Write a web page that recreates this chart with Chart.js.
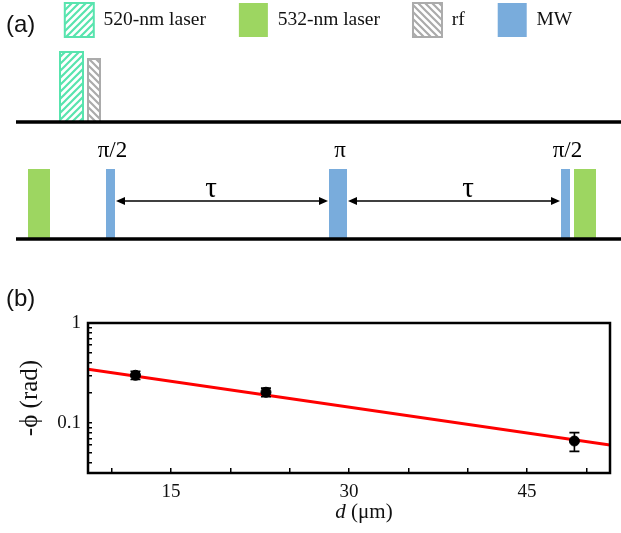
<!DOCTYPE html>
<html>
<head>
<meta charset="utf-8">
<script src="https://cdn.jsdelivr.net/npm/chart.js@4/dist/chart.umd.min.js"></script>
<style>
  body { margin: 0; background: #fff; }
  #wrap { position: relative; width: 621px; height: 533px; overflow: hidden; }
  .tag { position: absolute; font: 24px "Liberation Sans", Arial, sans-serif; color: #111; }
  #pulseBox { position: absolute; left: 0; top: -30px; width: 621px; height: 280px; }
  #phaseBox { position: absolute; left: 0; top: 250px; width: 621px; height: 283px; }
</style>
</head>
<body>
<div id="wrap">
  <div id="pulseBox"><canvas id="pulseChart"></canvas></div>
  <div id="phaseBox"><canvas id="phaseChart"></canvas></div>
  <div class="tag" style="left:6px;top:10px">(a)</div>
  <div class="tag" style="left:6px;top:284px">(b)</div>
</div>
<script>
// ---- (a) pulse sequence, time in a.u. ----
const channelNames = ['520-nm laser', '532-nm laser', 'rf', 'MW'];
const laser520 = [[44, 67]];
const laser532 = [[12, 34], [558, 580]];
const rfPulse = [[72, 84]];
const mwPulse = [[90, 99], [313, 331], [545, 554]];
const mwLabels = ['π/2', 'π', 'π/2'];
const laser520Amp = 1.0;
const laser532Amp = 1.0;
const rfAmp = 0.9;
const mwAmp = 1.0;
const upperLevel = 1.67;   // baseline of the upper (520 nm / rf) row
const tauLevel = 0.543;
const tauLabelAt = [195, 452];
const seqLength = 605;

// ---- (b) phase vs distance ----
const dValues = [12, 23, 49];
const phiValues = [0.30, 0.203, 0.066];
const phiErrors = [0.028, 0.02, 0.014];
const fitD = [8, 52];
const fitPhi = [0.344, 0.0603];
const xTickValues = [10, 15, 20, 25, 30, 35, 40, 45, 50];
const xTickLabels = ['', '15', '', '', '30', '', '', '45', ''];
const yTickValues = [0.04, 0.05, 0.06, 0.07, 0.08, 0.09, 0.1, 0.2, 0.3, 0.4, 0.5, 0.6, 0.7, 0.8, 0.9, 1];
const yTickLabels = ['', '', '', '', '', '', '0.1', '', '', '', '', '', '', '', '', '1'];

Chart.defaults.font.family = '"Liberation Serif", "Times New Roman", serif';
Chart.defaults.color = '#111';

function pulsePoints(pulses, base, amp) {
  const pts = [];
  pulses.forEach(([s, e]) => {
    pts.push({x: s, y: base}, {x: s, y: base + amp}, {x: e, y: base + amp}, {x: e, y: base});
  });
  return pts;
}

const pulseCtx = document.getElementById('pulseChart').getContext('2d');

function hatch(color, rising) {
  const c = document.createElement('canvas');
  c.width = c.height = 7;
  const g = c.getContext('2d');
  g.strokeStyle = color;
  g.lineWidth = 2.2;
  g.beginPath();
  if (rising) {
    g.moveTo(-1, 8); g.lineTo(8, -1);
    g.moveTo(-1, 1); g.lineTo(1, -1);
    g.moveTo(6, 8); g.lineTo(8, 6);
  } else {
    g.moveTo(-1, -1); g.lineTo(8, 8);
    g.moveTo(-1, 6); g.lineTo(1, 8);
    g.moveTo(6, -1); g.lineTo(8, 1);
  }
  g.stroke();
  return pulseCtx.createPattern(c, 'repeat');
}

function drawArrow(ctx, x1, x2, y) {
  const head = 10, half = 4;
  ctx.beginPath();
  ctx.moveTo(x1 + head - 1, y);
  ctx.lineTo(x2 - head + 1, y);
  ctx.stroke();
  ctx.beginPath();
  ctx.moveTo(x1 + 1, y); ctx.lineTo(x1 + head, y - half); ctx.lineTo(x1 + head, y + half); ctx.closePath();
  ctx.fill();
  ctx.beginPath();
  ctx.moveTo(x2 - 1, y); ctx.lineTo(x2 - head, y - half); ctx.lineTo(x2 - head, y + half); ctx.closePath();
  ctx.fill();
}

const pulseNotes = {
  id: 'pulseNotes',
  afterDatasetsDraw(chart) {
    const {ctx, scales: {x, y}} = chart;
    ctx.save();
    ctx.fillStyle = '#000';
    ctx.strokeStyle = '#000';
    ctx.lineWidth = 1.4;
    ctx.textAlign = 'center';
    ctx.textBaseline = 'alphabetic';
    mwPulse.forEach(([s, e], i) => {
      ctx.font = '23px "Liberation Serif", serif';
      ctx.fillText(mwLabels[i], x.getPixelForValue((s + e) / 2) + 2, y.getPixelForValue(mwAmp) - 12);
    });
    const ay = y.getPixelForValue(tauLevel);
    for (let i = 0; i < mwPulse.length - 1; i++) {
      drawArrow(ctx, x.getPixelForValue(mwPulse[i][1]), x.getPixelForValue(mwPulse[i + 1][0]), ay);
      ctx.font = '29px "Liberation Serif", serif';
      ctx.fillText('τ', x.getPixelForValue(tauLabelAt[i]), ay - 4);
    }
    ctx.restore();
  }
};

const teal = '#58e4ae';
const grey = '#ababab';

new Chart(pulseCtx, {
  type: 'line',
  data: {
    datasets: [
      { label: channelNames[0], data: pulsePoints(laser520, upperLevel, laser520Amp),
        backgroundColor: hatch(teal, true), borderColor: teal, borderWidth: 2, fill: {value: upperLevel}, order: 2 },
      { label: channelNames[1], data: pulsePoints(laser532, 0, laser532Amp),
        backgroundColor: '#9dd661', borderColor: '#9dd661', borderWidth: 0, fill: {value: 0}, order: 2 },
      { label: channelNames[2], data: pulsePoints(rfPulse, upperLevel, rfAmp),
        backgroundColor: hatch(grey, false), borderColor: grey, borderWidth: 2, fill: {value: upperLevel}, order: 2 },
      { label: channelNames[3], data: pulsePoints(mwPulse, 0, mwAmp),
        backgroundColor: '#79acdc', borderColor: '#79acdc', borderWidth: 0, fill: {value: 0}, order: 2 },
      { label: '', data: [{x: 0, y: upperLevel}, {x: seqLength, y: upperLevel}],
        borderColor: '#000', borderWidth: 3.5, fill: false, order: 0 },
      { label: '', data: [{x: 0, y: 0}, {x: seqLength, y: 0}],
        borderColor: '#000', borderWidth: 3.5, fill: false, order: 0 }
    ]
  },
  options: {
    responsive: true,
    maintainAspectRatio: false,
    animation: false,
    layout: { padding: {left: 16, right: 0, top: 0, bottom: 0} },
    elements: { point: { radius: 0 }, line: { tension: 0 } },
    plugins: {
      legend: {
        display: true,
        align: 'center',
        labels: {
          boxWidth: 29, boxHeight: 34, padding: 33,
          font: { size: 19.5 }, color: '#111',
          filter: item => !!item.text
        }
      },
      tooltip: { enabled: false }
    },
    scales: {
      x: { type: 'linear', display: false, min: 0, max: seqLength },
      y: { type: 'linear', display: false, min: -0.157, max: 2.743 }
    }
  },
  plugins: [pulseNotes]
});

// ---- (b) ----
const frame = {
  id: 'frame',
  afterDatasetsDraw(chart) {
    const {ctx, chartArea: a} = chart;
    ctx.save();
    ctx.strokeStyle = '#000';
    ctx.lineWidth = 2.5;
    ctx.strokeRect(a.left, a.top, a.right - a.left, a.bottom - a.top);
    ctx.restore();
  }
};

const errorBars = {
  id: 'errorBars',
  afterDatasetsDraw(chart) {
    const {ctx, scales: {x, y}} = chart;
    ctx.save();
    ctx.strokeStyle = '#000';
    ctx.lineWidth = 1.6;
    dValues.forEach((d, i) => {
      const px = x.getPixelForValue(d);
      const top = y.getPixelForValue(phiValues[i] + phiErrors[i]);
      const bot = y.getPixelForValue(phiValues[i] - phiErrors[i]);
      ctx.beginPath();
      ctx.moveTo(px, top); ctx.lineTo(px, bot);
      ctx.moveTo(px - 5, top); ctx.lineTo(px + 5, top);
      ctx.moveTo(px - 5, bot); ctx.lineTo(px + 5, bot);
      ctx.stroke();
    });
    ctx.restore();
  }
};

const xTitle = {
  id: 'xTitle',
  afterDraw(chart) {
    const {ctx, chartArea: a} = chart;
    const italic = 'italic 21px "Liberation Serif", serif';
    const plain = '21px "Liberation Serif", serif';
    ctx.save();
    ctx.fillStyle = '#111';
    ctx.textBaseline = 'alphabetic';
    ctx.font = italic;
    const w1 = ctx.measureText('d').width;
    ctx.font = plain;
    const w2 = ctx.measureText(' (μm)').width;
    const cx = (a.left + a.right) / 2 + 15;
    const x0 = cx - (w1 + w2) / 2;
    const y0 = a.bottom + 45;
    ctx.font = italic;
    ctx.fillText('d', x0, y0);
    ctx.font = plain;
    ctx.fillText(' (μm)', x0 + w1, y0);
    ctx.restore();
  }
};

new Chart(document.getElementById('phaseChart'), {
  type: 'line',
  data: {
    datasets: [
      { label: 'fit', data: fitD.map((d, i) => ({x: d, y: fitPhi[i]})),
        borderColor: '#ff0000', borderWidth: 3, pointRadius: 0, fill: false, order: 2 },
      { label: 'data', data: dValues.map((d, i) => ({x: d, y: phiValues[i]})),
        showLine: false, pointRadius: 5, pointBackgroundColor: '#000', pointBorderColor: '#000', order: 1 }
    ]
  },
  options: {
    responsive: true,
    maintainAspectRatio: false,
    animation: false,
    layout: { padding: {top: 73, right: 11, bottom: 0, left: 0} },
    plugins: { legend: { display: false }, tooltip: { enabled: false } },
    scales: {
      x: {
        type: 'linear', min: 8, max: 52,
        afterBuildTicks: s => { s.ticks = xTickValues.map(v => ({value: v})); },
        afterFit: s => { s.height = 60; },
        ticks: { autoSkip: false, maxRotation: 0, padding: 13, color: '#111', font: { size: 19 },
          callback: (v, i) => xTickLabels[i] },
        grid: { drawOnChartArea: false, drawTicks: true, tickLength: -5, color: '#000', lineWidth: 1.5 },
        border: { display: false }
      },
      y: {
        type: 'logarithmic', min: 0.0316, max: 1,
        afterBuildTicks: s => { s.ticks = yTickValues.map(v => ({value: v})); },
        afterFit: s => { s.width = 88; },
        ticks: { autoSkip: false, padding: 11, color: '#111', font: { size: 19 },
          callback: (v, i) => yTickLabels[i] },
        grid: { drawOnChartArea: false, drawTicks: true, tickLength: -4, color: '#000', lineWidth: 1.5 },
        border: { display: false },
        title: { display: true, text: '-ϕ (rad)', font: { size: 25 }, color: '#111', padding: { top: 15 } }
      }
    }
  },
  plugins: [frame, errorBars, xTitle]
});
</script>
</body>
</html>
